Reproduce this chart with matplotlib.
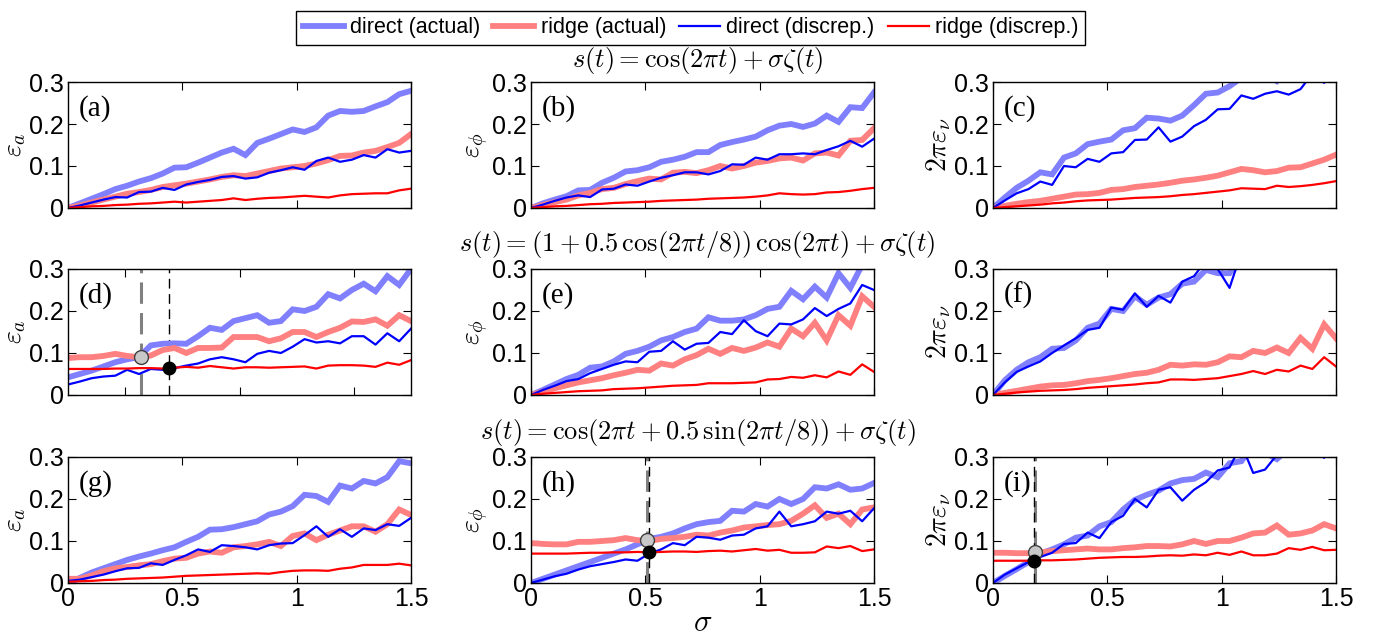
import numpy as np
import matplotlib
matplotlib.use("Agg")
import matplotlib.pyplot as plt

plt.rcParams['font.family'] = ['Liberation Sans', 'DejaVu Sans']
plt.rcParams['mathtext.fontset'] = 'cm'

sigma = np.linspace(0, 1.5, 30)

# (a) amplitude error, pure tone
a_dir_act = [0, 0.011, 0.022, 0.033, 0.045, 0.053, 0.063, 0.071, 0.082, 0.096, 0.097, 0.108, 0.12, 0.132, 0.141,
             0.126, 0.155, 0.165, 0.176, 0.187, 0.181, 0.192, 0.22, 0.231, 0.229, 0.231, 0.242, 0.252, 0.271, 0.279]
a_rdg_act = [0, 0.006, 0.013, 0.02, 0.027, 0.034, 0.038, 0.043, 0.05, 0.054, 0.058, 0.063, 0.068, 0.074, 0.078,
             0.076, 0.082, 0.088, 0.094, 0.097, 0.1, 0.106, 0.114, 0.124, 0.125, 0.132, 0.136, 0.145, 0.155, 0.176]
a_dir_dis = [0, 0.006, 0.013, 0.02, 0.026, 0.025, 0.038, 0.039, 0.048, 0.043, 0.056, 0.062, 0.067, 0.074, 0.076,
             0.07, 0.073, 0.084, 0.09, 0.097, 0.091, 0.112, 0.12, 0.11, 0.115, 0.126, 0.12, 0.14, 0.132, 0.136]
a_rdg_dis = [0, 0.002, 0.004, 0.005, 0.007, 0.008, 0.01, 0.011, 0.013, 0.015, 0.013, 0.015, 0.017, 0.019, 0.023,
             0.019, 0.022, 0.024, 0.025, 0.027, 0.029, 0.027, 0.025, 0.03, 0.033, 0.034, 0.035, 0.035, 0.042, 0.046]

# (b) phase error, pure tone
b_dir_act = [0, 0.011, 0.02, 0.028, 0.042, 0.043, 0.06, 0.072, 0.087, 0.09, 0.097, 0.11, 0.115, 0.122, 0.133,
             0.133, 0.15, 0.157, 0.163, 0.17, 0.185, 0.196, 0.2, 0.193, 0.201, 0.22, 0.205, 0.24, 0.238, 0.275]
b_rdg_act = [0, 0.007, 0.014, 0.02, 0.03, 0.036, 0.045, 0.048, 0.057, 0.064, 0.07, 0.068, 0.084, 0.086, 0.083,
             0.09, 0.1, 0.094, 0.1, 0.108, 0.112, 0.118, 0.12, 0.113, 0.13, 0.132, 0.125, 0.16, 0.162, 0.19]
b_dir_dis = [0, 0.008, 0.017, 0.025, 0.03, 0.026, 0.044, 0.046, 0.056, 0.053, 0.063, 0.072, 0.078, 0.085, 0.085,
             0.08, 0.088, 0.104, 0.103, 0.12, 0.115, 0.128, 0.128, 0.13, 0.128, 0.138, 0.147, 0.16, 0.146, 0.165]
b_rdg_dis = [0, 0.002, 0.004, 0.005, 0.007, 0.009, 0.01, 0.012, 0.013, 0.014, 0.015, 0.017, 0.018, 0.019, 0.02,
             0.022, 0.023, 0.024, 0.025, 0.027, 0.03, 0.035, 0.033, 0.032, 0.033, 0.037, 0.038, 0.041, 0.045, 0.048]

# (c) frequency error, pure tone
c_dir_act = [0, 0.025, 0.048, 0.065, 0.085, 0.08, 0.12, 0.13, 0.152, 0.158, 0.163, 0.185, 0.19, 0.215, 0.213,
             0.208, 0.22, 0.245, 0.272, 0.275, 0.29, 0.31, 0.33, 0.32, 0.302, 0.33, 0.35, 0.34, 0.37, 0.38]
c_rdg_act = [0, 0.005, 0.01, 0.014, 0.017, 0.022, 0.027, 0.032, 0.033, 0.036, 0.043, 0.045, 0.05, 0.053, 0.056,
             0.06, 0.065, 0.068, 0.072, 0.077, 0.085, 0.093, 0.09, 0.085, 0.088, 0.096, 0.097, 0.106, 0.115, 0.127]
c_dir_dis = [0, 0.018, 0.035, 0.045, 0.063, 0.055, 0.1, 0.097, 0.117, 0.11, 0.13, 0.133, 0.162, 0.163, 0.192,
             0.158, 0.17, 0.195, 0.21, 0.235, 0.236, 0.268, 0.26, 0.272, 0.278, 0.27, 0.283, 0.32, 0.298, 0.34]
c_rdg_dis = [0, 0.002, 0.004, 0.006, 0.008, 0.011, 0.013, 0.016, 0.018, 0.019, 0.02, 0.022, 0.024, 0.025, 0.026,
             0.028, 0.031, 0.033, 0.036, 0.039, 0.042, 0.047, 0.046, 0.045, 0.053, 0.05, 0.052, 0.055, 0.059, 0.064]

# (d) amplitude error, AM signal
d_dir_act = [0.042, 0.05, 0.058, 0.068, 0.078, 0.085, 0.09, 0.118, 0.122, 0.123, 0.122, 0.14, 0.16, 0.155, 0.176,
             0.183, 0.19, 0.172, 0.176, 0.204, 0.2, 0.21, 0.24, 0.23, 0.25, 0.265, 0.247, 0.283, 0.262, 0.3]
d_rdg_act = [0.088, 0.09, 0.09, 0.093, 0.098, 0.093, 0.09, 0.094, 0.107, 0.112, 0.1, 0.112, 0.112, 0.113, 0.138,
             0.138, 0.138, 0.128, 0.135, 0.15, 0.15, 0.138, 0.15, 0.16, 0.175, 0.174, 0.18, 0.165, 0.19, 0.176]
d_dir_dis = [0.025, 0.032, 0.04, 0.044, 0.046, 0.06, 0.05, 0.062, 0.06, 0.064, 0.07, 0.075, 0.085, 0.09, 0.085,
             0.078, 0.098, 0.105, 0.1, 0.115, 0.133, 0.125, 0.128, 0.123, 0.14, 0.14, 0.12, 0.147, 0.128, 0.158]
d_rdg_dis = [0.062, 0.062, 0.062, 0.062, 0.063, 0.063, 0.064, 0.064, 0.063, 0.065, 0.067, 0.065, 0.069, 0.066, 0.063,
             0.066, 0.066, 0.065, 0.066, 0.067, 0.068, 0.063, 0.07, 0.071, 0.071, 0.07, 0.067, 0.077, 0.072, 0.083]

# (e) phase error, AM signal
e_dir_act = [0, 0.012, 0.025, 0.038, 0.048, 0.065, 0.068, 0.08, 0.098, 0.105, 0.115, 0.13, 0.138, 0.15, 0.158,
             0.185, 0.177, 0.177, 0.18, 0.19, 0.205, 0.21, 0.248, 0.228, 0.258, 0.232, 0.29, 0.255, 0.31, 0.35]
e_rdg_act = [0, 0.008, 0.016, 0.023, 0.03, 0.035, 0.04, 0.047, 0.053, 0.06, 0.058, 0.075, 0.07, 0.085, 0.095,
             0.11, 0.098, 0.112, 0.105, 0.113, 0.125, 0.115, 0.158, 0.14, 0.172, 0.13, 0.19, 0.165, 0.235, 0.21]
e_dir_dis = [0, 0.012, 0.022, 0.033, 0.038, 0.052, 0.062, 0.072, 0.08, 0.078, 0.103, 0.105, 0.128, 0.108, 0.122,
             0.124, 0.15, 0.145, 0.178, 0.152, 0.14, 0.17, 0.168, 0.18, 0.207, 0.188, 0.205, 0.218, 0.262, 0.25]
e_rdg_dis = [0, 0.003, 0.005, 0.007, 0.009, 0.01, 0.011, 0.014, 0.015, 0.016, 0.018, 0.02, 0.022, 0.023, 0.024,
             0.028, 0.028, 0.028, 0.029, 0.03, 0.037, 0.038, 0.043, 0.041, 0.047, 0.042, 0.056, 0.048, 0.073, 0.055]

# (f) frequency error, AM signal
f_dir_act = [0, 0.035, 0.06, 0.078, 0.09, 0.11, 0.112, 0.13, 0.16, 0.17, 0.205, 0.2, 0.235, 0.215, 0.232,
             0.24, 0.265, 0.27, 0.298, 0.29, 0.29, 0.33, 0.34, 0.36, 0.37, 0.38, 0.39, 0.4, 0.42, 0.42]
f_rdg_act = [0, 0.005, 0.01, 0.015, 0.02, 0.023, 0.024, 0.028, 0.033, 0.036, 0.04, 0.045, 0.05, 0.053, 0.06,
             0.072, 0.07, 0.073, 0.072, 0.078, 0.092, 0.09, 0.105, 0.1, 0.113, 0.1, 0.136, 0.11, 0.168, 0.135]
f_dir_dis = [0, 0.03, 0.055, 0.068, 0.08, 0.1, 0.118, 0.135, 0.155, 0.16, 0.208, 0.203, 0.242, 0.21, 0.236,
             0.22, 0.27, 0.283, 0.32, 0.3, 0.255, 0.34, 0.35, 0.36, 0.38, 0.36, 0.4, 0.38, 0.42, 0.4]
f_rdg_dis = [0, 0.003, 0.006, 0.008, 0.01, 0.011, 0.012, 0.014, 0.017, 0.019, 0.021, 0.023, 0.025, 0.028, 0.03,
             0.037, 0.037, 0.036, 0.038, 0.04, 0.045, 0.05, 0.057, 0.05, 0.06, 0.056, 0.07, 0.062, 0.09, 0.068]

# (g) amplitude error, FM signal
g_dir_act = [0, 0.012, 0.025, 0.035, 0.045, 0.055, 0.063, 0.07, 0.078, 0.085, 0.098, 0.11, 0.127, 0.128, 0.133,
             0.14, 0.147, 0.163, 0.17, 0.183, 0.21, 0.207, 0.193, 0.232, 0.225, 0.243, 0.237, 0.252, 0.29, 0.285]
g_rdg_act = [0.01, 0.01, 0.018, 0.028, 0.035, 0.038, 0.042, 0.045, 0.052, 0.058, 0.06, 0.07, 0.075, 0.072, 0.085,
             0.088, 0.092, 0.098, 0.088, 0.112, 0.118, 0.102, 0.115, 0.125, 0.135, 0.135, 0.122, 0.14, 0.175, 0.162]
g_dir_dis = [0.005, 0.008, 0.014, 0.02, 0.028, 0.035, 0.036, 0.047, 0.043, 0.055, 0.066, 0.08, 0.074, 0.09, 0.088,
             0.085, 0.08, 0.09, 0.094, 0.095, 0.114, 0.135, 0.11, 0.128, 0.11, 0.13, 0.126, 0.14, 0.136, 0.155]
g_rdg_dis = [0.003, 0.004, 0.005, 0.007, 0.008, 0.01, 0.011, 0.012, 0.013, 0.015, 0.017, 0.018, 0.019, 0.02, 0.021,
             0.022, 0.023, 0.022, 0.026, 0.029, 0.03, 0.03, 0.029, 0.034, 0.037, 0.043, 0.043, 0.043, 0.046, 0.042]

# (h) phase error, FM signal
h_dir_act = [0, 0.01, 0.02, 0.03, 0.04, 0.05, 0.06, 0.07, 0.08, 0.092, 0.105, 0.11, 0.118, 0.13, 0.14,
             0.145, 0.148, 0.172, 0.17, 0.188, 0.182, 0.2, 0.188, 0.2, 0.228, 0.225, 0.235, 0.222, 0.225, 0.238]
h_rdg_act = [0.095, 0.093, 0.092, 0.092, 0.098, 0.098, 0.1, 0.102, 0.107, 0.102, 0.1, 0.105, 0.107, 0.11, 0.115,
             0.113, 0.12, 0.125, 0.132, 0.135, 0.138, 0.14, 0.148, 0.165, 0.185, 0.155, 0.165, 0.14, 0.175, 0.18]
h_dir_dis = [0, 0.008, 0.016, 0.022, 0.032, 0.04, 0.045, 0.05, 0.056, 0.053, 0.07, 0.08, 0.095, 0.09, 0.11,
             0.108, 0.103, 0.113, 0.115, 0.13, 0.135, 0.17, 0.135, 0.14, 0.147, 0.17, 0.165, 0.172, 0.147, 0.178]
h_rdg_dis = [0.07, 0.07, 0.07, 0.07, 0.071, 0.072, 0.072, 0.073, 0.073, 0.074, 0.073, 0.074, 0.075, 0.075, 0.074,
             0.076, 0.077, 0.075, 0.078, 0.081, 0.077, 0.079, 0.072, 0.072, 0.073, 0.087, 0.083, 0.088, 0.076, 0.08]

# (i) frequency error, FM signal
i_dir_act = [0, 0.017, 0.033, 0.05, 0.07, 0.08, 0.092, 0.108, 0.113, 0.135, 0.145, 0.175, 0.198, 0.21, 0.22,
             0.237, 0.245, 0.248, 0.263, 0.252, 0.285, 0.29, 0.33, 0.31, 0.295, 0.32, 0.34, 0.33, 0.35, 0.36]
i_rdg_act = [0.072, 0.072, 0.071, 0.071, 0.073, 0.076, 0.078, 0.08, 0.082, 0.08, 0.08, 0.083, 0.085, 0.088, 0.088,
             0.087, 0.092, 0.1, 0.093, 0.1, 0.1, 0.108, 0.118, 0.12, 0.137, 0.115, 0.118, 0.125, 0.14, 0.13]
i_dir_dis = [0, 0.02, 0.035, 0.05, 0.062, 0.072, 0.093, 0.095, 0.12, 0.107, 0.145, 0.16, 0.2, 0.18, 0.222,
             0.228, 0.196, 0.222, 0.24, 0.268, 0.275, 0.33, 0.262, 0.27, 0.305, 0.33, 0.34, 0.32, 0.298, 0.34]
i_rdg_dis = [0.053, 0.053, 0.053, 0.053, 0.054, 0.054, 0.055, 0.056, 0.058, 0.06, 0.061, 0.062, 0.062, 0.063, 0.065,
             0.066, 0.065, 0.068, 0.066, 0.072, 0.067, 0.075, 0.066, 0.066, 0.07, 0.083, 0.079, 0.086, 0.078, 0.079]

# crossover points: (sigma, error) for actual (grey) and discrepancy (black)
d_cross_act = (0.32, 0.09)
d_cross_dis = (0.44, 0.064)
h_cross_act = (0.507, 0.103)
h_cross_dis = (0.515, 0.073)
i_cross_act = (0.185, 0.075)
i_cross_dis = (0.18, 0.053)

panels = [
    ('a', a_dir_act, a_rdg_act, a_dir_dis, a_rdg_dis),
    ('b', b_dir_act, b_rdg_act, b_dir_dis, b_rdg_dis),
    ('c', c_dir_act, c_rdg_act, c_dir_dis, c_rdg_dis),
    ('d', d_dir_act, d_rdg_act, d_dir_dis, d_rdg_dis),
    ('e', e_dir_act, e_rdg_act, e_dir_dis, e_rdg_dis),
    ('f', f_dir_act, f_rdg_act, f_dir_dis, f_rdg_dis),
    ('g', g_dir_act, g_rdg_act, g_dir_dis, g_rdg_dis),
    ('h', h_dir_act, h_rdg_act, h_dir_dis, h_rdg_dis),
    ('i', i_dir_act, i_rdg_act, i_dir_dis, i_rdg_dis),
]
crossings = {'d': (d_cross_act, d_cross_dis), 'h': (h_cross_act, h_cross_dis), 'i': (i_cross_act, i_cross_dis)}

ylabels = [r'$\varepsilon_a$', r'$\varepsilon_\phi$', r'$2\pi\varepsilon_\nu$']
row_titles = [r'$s(t) = \cos(2\pi t) + \sigma\zeta(t)$',
              r'$s(t) = (1 + 0.5\,\cos(2\pi t/8))\,\cos(2\pi t) + \sigma\zeta(t)$',
              r'$s(t) = \cos(2\pi t + 0.5\,\sin(2\pi t/8)) + \sigma\zeta(t)$']

W, H = 1373, 637
fig = plt.figure(figsize=(W / 100, H / 100), dpi=100)

col_left = [68, 531, 993]
col_w = 343
row_top = [82, 269, 457]
row_h = 126

for k, (tag, dir_act, rdg_act, dir_dis, rdg_dis) in enumerate(panels):
    r, c = divmod(k, 3)
    ax = fig.add_axes([col_left[c] / W, 1 - (row_top[r] + row_h) / H, col_w / W, row_h / H])
    if tag in crossings:
        (xa, ya), (xd, yd) = crossings[tag]
        ax.axvline(xa, color='#808080', lw=2.2, dashes=(7, 3), zorder=1)
        ax.axvline(xd, color='black', lw=1.0, dashes=(7, 4), zorder=1)
    ax.plot(sigma, dir_act, color='#8080ff', lw=4.2, solid_joinstyle='miter', label='direct (actual)')
    ax.plot(sigma, rdg_act, color='#ff8080', lw=4.2, solid_joinstyle='miter', label='ridge (actual)')
    ax.plot(sigma, dir_dis, color='#0000ff', lw=1.6, label='direct (discrep.)')
    ax.plot(sigma, rdg_dis, color='#ff0000', lw=1.6, label='ridge (discrep.)')
    if tag in crossings:
        ax.plot([xa], [ya], 'o', ms=10, mfc='#c8c8c8', mec='#404040', mew=1.0, zorder=5)
        ax.plot([xd], [yd], 'o', ms=9, mfc='black', mec='black', zorder=5)

    ax.set_xlim(0, 1.5)
    ax.set_ylim(0, 0.3)
    if tag == 'd':
        ax.set_xticks([0.25, 0.75, 1.25])
    else:
        ax.set_xticks([0, 0.5, 1, 1.5])
    ax.set_yticks([0, 0.1, 0.2, 0.3])
    ax.set_yticklabels(['0', '0.1', '0.2', '0.3'])
    if r == 2:
        ax.set_xticklabels(['0', '0.5', '1', '1.5'])
    else:
        ax.set_xticklabels([])
    ax.tick_params(direction='in', top=True, right=True, length=6, width=0.8, labelsize=18, pad=3)
    for sp in ax.spines.values():
        sp.set_linewidth(1.0)
    ax.set_ylabel(ylabels[c], fontsize=20, labelpad=1)
    ax.text(0.03, 0.9, '(%s)' % tag, transform=ax.transAxes, ha='left', va='top',
            fontsize=21, family=['Liberation Serif', 'DejaVu Serif'])
    if tag == 'h':
        ax.set_xlabel(r'$\sigma$', fontsize=22, labelpad=-2)
    if k == 0:
        handles, labels = ax.get_legend_handles_labels()

# titles above each row
title_y = [60, 245, 432]
for ty, txt in zip(title_y, row_titles):
    fig.text(0.508, 1 - ty / H, txt, ha='center', va='center', fontsize=19)

leg = fig.legend(handles, labels, loc='upper center', bbox_to_anchor=(0.503, 1.0), ncol=4,
                 frameon=True, fancybox=False, edgecolor='black', framealpha=1,
                 handlelength=1.9, handletextpad=0.3, columnspacing=0.6, borderpad=0.3,
                 prop={'size': 15.5})
leg.get_frame().set_linewidth(1.0)

fig.savefig('out.png', dpi=100)
